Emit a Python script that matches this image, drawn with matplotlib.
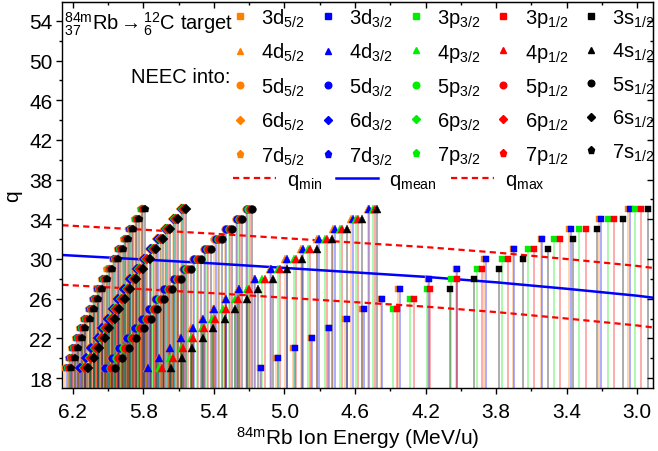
import matplotlib
matplotlib.use('Agg')
import matplotlib.pyplot as plt
from matplotlib.lines import Line2D
from matplotlib.ticker import FixedLocator, MultipleLocator, NullFormatter

plt.rcParams['font.family'] = ['Liberation Sans', 'DejaVu Sans']
plt.rcParams['mathtext.fontset'] = 'custom'
plt.rcParams['mathtext.rm'] = 'Liberation Sans'
plt.rcParams['mathtext.it'] = 'Liberation Sans:italic'
plt.rcParams['mathtext.bf'] = 'Liberation Sans:bold'

# ---------------- data ----------------
q_full = [19, 20, 21, 22, 23, 24, 25, 26, 27, 28, 29, 30, 31, 32, 33, 34, 35]
q_3p = [25, 26, 27, 28, 29, 30, 31, 32, 33, 34, 35]
q_3s = [27, 28, 29, 30, 31, 32, 33, 34, 35]

# n = 3 (squares)
e_3d52 = [5.141, 5.047, 4.949, 4.851, 4.754, 4.656, 4.558, 4.454, 4.354, 4.188, 4.027, 3.866, 3.706, 3.545, 3.385, 3.215, 3.052]
e_3d32 = [5.133, 5.039, 4.941, 4.843, 4.746, 4.648, 4.550, 4.446, 4.346, 4.180, 4.019, 3.858, 3.698, 3.537, 3.377, 3.207, 3.042]
e_3p32 = [4.384, 4.289, 4.194, 4.053, 3.908, 3.764, 3.619, 3.471, 3.330, 3.165, 3.014]
e_3p12 = [4.361, 4.266, 4.172, 4.024, 3.877, 3.730, 3.586, 3.439, 3.292, 3.133, 2.976]
e_3s12 = [4.062, 3.925, 3.783, 3.647, 3.505, 3.364, 3.226, 3.082, 2.939]

# n = 4 (triangles)
e_4d52 = [5.780, 5.719, 5.657, 5.594, 5.529, 5.468, 5.407, 5.339, 5.266, 5.175, 5.084, 4.996, 4.905, 4.813, 4.722, 4.622, 4.528]
e_4d32 = [5.772, 5.711, 5.649, 5.586, 5.521, 5.460, 5.399, 5.331, 5.258, 5.167, 5.076, 4.988, 4.897, 4.805, 4.714, 4.614, 4.520]
e_4p32 = [5.711, 5.650, 5.588, 5.532, 5.470, 5.409, 5.347, 5.280, 5.215, 5.125, 5.039, 4.948, 4.868, 4.772, 4.687, 4.592, 4.497]
e_4p12 = [5.696, 5.635, 5.573, 5.517, 5.456, 5.395, 5.333, 5.266, 5.201, 5.112, 5.026, 4.935, 4.856, 4.761, 4.676, 4.582, 4.487]
e_4s12 = [5.645, 5.582, 5.522, 5.462, 5.403, 5.340, 5.278, 5.214, 5.148, 5.065, 4.984, 4.899, 4.814, 4.731, 4.648, 4.563, 4.474]

# n = 5 (circles)
e_5d52 = [6.023, 5.985, 5.943, 5.899, 5.855, 5.813, 5.774, 5.733, 5.687, 5.633, 5.578, 5.519, 5.457, 5.397, 5.335, 5.277, 5.221]
e_5d32 = [6.017, 5.979, 5.937, 5.893, 5.849, 5.807, 5.768, 5.727, 5.681, 5.627, 5.572, 5.513, 5.451, 5.391, 5.329, 5.271, 5.215]
e_5p32 = [5.991, 5.954, 5.913, 5.870, 5.827, 5.786, 5.748, 5.709, 5.663, 5.610, 5.556, 5.498, 5.438, 5.378, 5.317, 5.260, 5.205]
e_5p12 = [5.984, 5.947, 5.906, 5.863, 5.820, 5.779, 5.741, 5.702, 5.656, 5.603, 5.549, 5.491, 5.431, 5.371, 5.310, 5.253, 5.198]
e_5s12 = [5.960, 5.924, 5.884, 5.841, 5.799, 5.759, 5.722, 5.683, 5.638, 5.586, 5.533, 5.476, 5.416, 5.357, 5.297, 5.241, 5.187]

# n = 6 (diamonds)
e_6d52 = [6.164, 6.131, 6.101, 6.066, 6.040, 6.007, 5.981, 5.948, 5.914, 5.880, 5.842, 5.801, 5.762, 5.721, 5.679, 5.633, 5.586]
e_6d32 = [6.158, 6.125, 6.095, 6.060, 6.034, 6.001, 5.975, 5.942, 5.908, 5.874, 5.836, 5.795, 5.756, 5.715, 5.673, 5.627, 5.580]
e_6p32 = [6.136, 6.104, 6.075, 6.041, 6.016, 5.984, 5.959, 5.927, 5.894, 5.861, 5.824, 5.784, 5.747, 5.706, 5.666, 5.620, 5.574]
e_6p12 = [6.130, 6.098, 6.069, 6.035, 6.010, 5.978, 5.953, 5.921, 5.888, 5.855, 5.818, 5.778, 5.741, 5.700, 5.660, 5.614, 5.568]
e_6s12 = [6.113, 6.081, 6.053, 6.019, 5.994, 5.963, 5.938, 5.907, 5.874, 5.841, 5.805, 5.765, 5.728, 5.688, 5.648, 5.603, 5.557]

# n = 7 (pentagons)
e_7d52 = [6.242, 6.223, 6.206, 6.182, 6.160, 6.136, 6.111, 6.086, 6.063, 6.034, 6.004, 5.972, 5.943, 5.912, 5.882, 5.850, 5.815]
e_7d32 = [6.236, 6.217, 6.200, 6.176, 6.154, 6.130, 6.105, 6.080, 6.057, 6.028, 5.998, 5.966, 5.937, 5.906, 5.876, 5.844, 5.809]
e_7p32 = [6.228, 6.209, 6.193, 6.169, 6.148, 6.124, 6.099, 6.075, 6.052, 6.023, 5.994, 5.962, 5.933, 5.903, 5.873, 5.841, 5.806]
e_7p12 = [6.222, 6.203, 6.187, 6.163, 6.142, 6.118, 6.093, 6.069, 6.046, 6.017, 5.988, 5.956, 5.927, 5.897, 5.867, 5.835, 5.800]
e_7s12 = [6.208, 6.189, 6.173, 6.150, 6.129, 6.105, 6.081, 6.057, 6.034, 6.006, 5.977, 5.946, 5.917, 5.887, 5.858, 5.826, 5.792]

# charge-state curves
line_e = [6.26, 5.8, 5.4, 5.0, 4.6, 4.2, 3.8, 3.4, 3.0, 2.91]
q_mean = [30.4, 29.95, 29.55, 29.1, 28.65, 28.2, 27.65, 27.0, 26.3, 26.1]
q_max = [33.4, 32.95, 32.55, 32.1, 31.65, 31.2, 30.65, 30.0, 29.3, 29.1]
q_min = [27.4, 26.95, 26.55, 26.1, 25.65, 25.2, 24.65, 24.0, 23.3, 23.1]

x_ticks = [6.2, 5.8, 5.4, 5.0, 4.6, 4.2, 3.8, 3.4, 3.0]
x_tick_labels = ['6.2', '5.8', '5.4', '5.0', '4.6', '4.2', '3.8', '3.4', '3.0']
y_ticks = [18, 22, 26, 30, 34, 38, 42, 46, 50, 54]

subshells = ['d52', 'd32', 'p32', 'p12', 's12']
sub_tex = {'d52': 'd$_{\\mathrm{5/2}}$', 'd32': 'd$_{\\mathrm{3/2}}$', 'p32': 'p$_{\\mathrm{3/2}}$',
           'p12': 'p$_{\\mathrm{1/2}}$', 's12': 's$_{\\mathrm{1/2}}$'}
colors = {'d52': '#FF8000', 'd32': '#0000FF', 'p32': '#00EE00', 'p12': '#FF0000', 's12': '#000000'}
markers = {3: 's', 4: '^', 5: 'o', 6: 'D', 7: 'p'}
msize = {3: 5.0, 4: 5.8, 5: 5.6, 6: 4.6, 7: 6.2}

data = {
    (3, 'd52'): (q_full, e_3d52), (3, 'd32'): (q_full, e_3d32), (3, 'p32'): (q_3p, e_3p32),
    (3, 'p12'): (q_3p, e_3p12), (3, 's12'): (q_3s, e_3s12),
    (4, 'd52'): (q_full, e_4d52), (4, 'd32'): (q_full, e_4d32), (4, 'p32'): (q_full, e_4p32),
    (4, 'p12'): (q_full, e_4p12), (4, 's12'): (q_full, e_4s12),
    (5, 'd52'): (q_full, e_5d52), (5, 'd32'): (q_full, e_5d32), (5, 'p32'): (q_full, e_5p32),
    (5, 'p12'): (q_full, e_5p12), (5, 's12'): (q_full, e_5s12),
    (6, 'd52'): (q_full, e_6d52), (6, 'd32'): (q_full, e_6d32), (6, 'p32'): (q_full, e_6p32),
    (6, 'p12'): (q_full, e_6p12), (6, 's12'): (q_full, e_6s12),
    (7, 'd52'): (q_full, e_7d52), (7, 'd32'): (q_full, e_7d32), (7, 'p32'): (q_full, e_7p32),
    (7, 'p12'): (q_full, e_7p12), (7, 's12'): (q_full, e_7s12),
}

FS = 14.5
TFS = 15
Y_LO, Y_HI = 17.0, 55.85

fig = plt.figure(figsize=(6.58, 4.52), dpi=100)
ax = fig.add_axes([0.0947, 0.1394, 0.8977, 0.8529])
ax.set_xlim(6.26, 2.91)
ax.set_ylim(Y_LO, Y_HI)

# drop lines
for n in [3, 4, 5, 6, 7]:
    for s in subshells:
        qs, es = data[(n, s)]
        ax.vlines(es, Y_LO, qs, colors=colors[s], alpha=0.38, lw=1.2, zorder=1)

# charge-state curves
ax.plot(line_e, q_min, color='#FF0000', lw=1.6, dashes=(2.8, 1.9), zorder=2)
ax.plot(line_e, q_mean, color='#0000FF', lw=1.8, zorder=2)
ax.plot(line_e, q_max, color='#FF0000', lw=1.6, dashes=(2.8, 1.9), zorder=2)

# markers
for n in [3, 4, 5, 6, 7]:
    for s in subshells:
        qs, es = data[(n, s)]
        ax.plot(es, qs, linestyle='None', marker=markers[n], ms=msize[n],
                color=colors[s], mec=colors[s], mew=0.3, zorder=3)

# ticks
ax.xaxis.set_major_locator(FixedLocator(x_ticks))
ax.set_xticklabels(x_tick_labels)
ax.xaxis.set_minor_locator(MultipleLocator(0.2))
ax.yaxis.set_major_locator(FixedLocator(y_ticks))
ax.yaxis.set_minor_locator(MultipleLocator(2))
ax.tick_params(which='both', direction='out', labelsize=TFS, width=1.0)
ax.tick_params(which='major', length=4.2)
ax.tick_params(which='minor', length=2.4)
ax.tick_params(axis='x', pad=6)
ax.tick_params(axis='y', pad=3)

secx = ax.secondary_xaxis('top')
secx.xaxis.set_major_locator(FixedLocator(x_ticks))
secx.xaxis.set_minor_locator(MultipleLocator(0.2))
secx.xaxis.set_major_formatter(NullFormatter())
secx.tick_params(which='both', direction='in', width=1.0)
secx.tick_params(which='major', length=4.2)
secx.tick_params(which='minor', length=2.4)

secy = ax.secondary_yaxis('right')
secy.yaxis.set_major_locator(FixedLocator(y_ticks))
secy.yaxis.set_minor_locator(MultipleLocator(2))
secy.yaxis.set_major_formatter(NullFormatter())
secy.tick_params(which='both', direction='in', width=1.0)
secy.tick_params(which='major', length=4.2)
secy.tick_params(which='minor', length=2.4)

for sp in ax.spines.values():
    sp.set_linewidth(1.0)

ax.set_xlabel(r'$^{\mathrm{84m}}$Rb Ion Energy (MeV/u)', fontsize=TFS, labelpad=2)
ax.set_ylabel('q', fontsize=TFS, labelpad=5)

ax.text(0.003, 0.931, r'${}^{\mathrm{84m}}_{\mathrm{37}}$Rb$\,$→$\,$${}^{\mathrm{12}}_{\mathrm{6}}$C target',
        transform=ax.transAxes, fontsize=14.5, ha='left', va='baseline')
ax.text(0.284, 0.794, 'NEEC into:', transform=ax.transAxes, fontsize=FS,
        ha='right', va='baseline')

# legend of subshells
handles, labels = [], []
for s in subshells:
    for n in [3, 4, 5, 6, 7]:
        handles.append(Line2D([], [], linestyle='None', marker=markers[n], ms=msize[n] * 0.85,
                              color=colors[s], mec=colors[s]))
        labels.append(str(n) + sub_tex[s])
leg1 = ax.legend(handles, labels, ncol=5, loc='upper left', bbox_to_anchor=(0.284, 0.990),
                 frameon=False, fontsize=FS, handlelength=1.0, handletextpad=0.55,
                 columnspacing=0.65, labelspacing=0.605, borderpad=0.0, borderaxespad=0.0)
ax.add_artist(leg1)

line_handles = [Line2D([], [], color='#FF0000', lw=1.6, dashes=(2.8, 1.9)),
                Line2D([], [], color='#0000FF', lw=1.8),
                Line2D([], [], color='#FF0000', lw=1.6, dashes=(2.8, 1.9))]
line_labels = [r'q$_{\mathrm{min}}$', r'q$_{\mathrm{mean}}$', r'q$_{\mathrm{max}}$']
leg2 = ax.legend(line_handles, line_labels, ncol=3, loc='upper left', bbox_to_anchor=(0.2895, 0.566),
                 frameon=False, fontsize=FS, handlelength=2.1, handletextpad=0.55,
                 columnspacing=0.7, borderpad=0.0, borderaxespad=0.0)

fig.savefig('out.png', dpi=100)
